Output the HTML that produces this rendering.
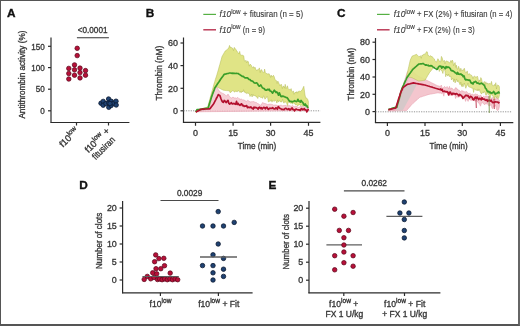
<!DOCTYPE html>
<html><head><meta charset="utf-8"><style>
html,body{margin:0;padding:0;background:#fff;}
body{width:520px;height:326px;overflow:hidden;position:relative;}
svg{position:absolute;left:0;top:0;filter:blur(0.3px);font-family:"Liberation Sans",sans-serif;}
svg text{stroke:#333;stroke-width:0.32px;}
.frame{position:absolute;left:0;top:0;width:520px;height:326px;box-sizing:border-box;border-top:1px solid #555;border-left:1px solid #555;border-right:2px solid #666;border-bottom:2px solid #555;}
</style></head><body>
<svg width="520" height="326" viewBox="0 0 520 326">
<text x="7.1" y="17" font-size="11.8" text-anchor="start" font-weight="bold" fill="#111" style="stroke:#111;stroke-width:0.35px">A</text>
<line x1="51" y1="37.5" x2="51" y2="122.5" stroke="#2b2b2b" stroke-width="1.2" />
<line x1="50.4" y1="122.5" x2="129.4" y2="122.5" stroke="#2b2b2b" stroke-width="1.2" />
<line x1="48" y1="46.3" x2="51" y2="46.3" stroke="#2b2b2b" stroke-width="1.2" />
<text x="44.8" y="49.5" font-size="8.9" text-anchor="end" textLength="13.5" lengthAdjust="spacingAndGlyphs" fill="#3a3a3a" >150</text>
<line x1="48" y1="67.6" x2="51" y2="67.6" stroke="#2b2b2b" stroke-width="1.2" />
<text x="44.8" y="70.8" font-size="8.9" text-anchor="end" textLength="13.5" lengthAdjust="spacingAndGlyphs" fill="#3a3a3a" >100</text>
<line x1="48" y1="89.2" x2="51" y2="89.2" stroke="#2b2b2b" stroke-width="1.2" />
<text x="44.8" y="92.4" font-size="8.9" text-anchor="end" textLength="9.0" lengthAdjust="spacingAndGlyphs" fill="#3a3a3a" >50</text>
<line x1="48" y1="110.8" x2="51" y2="110.8" stroke="#2b2b2b" stroke-width="1.2" />
<text x="44.8" y="114.0" font-size="8.9" text-anchor="end" textLength="4.5" lengthAdjust="spacingAndGlyphs" fill="#3a3a3a" >0</text>
<text x="25.3" y="118.6" font-size="8.6" text-anchor="start" textLength="88" lengthAdjust="spacingAndGlyphs" transform="rotate(-90 25.3 118.6)" fill="#3a3a3a" >Antithrombin activity (%)</text>
<text x="77.7" y="33.1" font-size="8.3" text-anchor="start" textLength="29.8" lengthAdjust="spacingAndGlyphs" fill="#3a3a3a" >&lt;0.0001</text>
<line x1="76.9" y1="37.8" x2="108.9" y2="37.8" stroke="#333" stroke-width="1.1" />
<line x1="76.5" y1="122.5" x2="76.5" y2="125.5" stroke="#2b2b2b" stroke-width="1.2" />
<line x1="108.5" y1="122.5" x2="108.5" y2="125.5" stroke="#2b2b2b" stroke-width="1.2" />
<g transform="translate(79.3,131.5) rotate(-45)">
<text x="0" y="0" font-size="9.2" text-anchor="end" fill="#3a3a3a">f10<tspan font-size="6.8" dy="-3.8">low</tspan></text>
</g>
<g transform="translate(110.3,131.5) rotate(-45)">
<text x="0" y="0" font-size="9.2" text-anchor="end" fill="#3a3a3a">f10<tspan font-size="6.8" dy="-3.8">low</tspan><tspan dy="3.8"> +</tspan></text>
<text x="-2.5" y="10" font-size="9.2" text-anchor="end" textLength="28" lengthAdjust="spacingAndGlyphs" fill="#3a3a3a">fitusiran</text>
</g>
<circle cx="77.2" cy="48.3" r="2.25" fill="#b81039" stroke="#5e0a1e" stroke-width="0.75"/>
<circle cx="77.2" cy="55.6" r="2.25" fill="#b81039" stroke="#5e0a1e" stroke-width="0.75"/>
<circle cx="74.5" cy="64.9" r="2.25" fill="#b81039" stroke="#5e0a1e" stroke-width="0.75"/>
<circle cx="68.8" cy="68.4" r="2.25" fill="#b81039" stroke="#5e0a1e" stroke-width="0.75"/>
<circle cx="74.5" cy="69.8" r="2.25" fill="#b81039" stroke="#5e0a1e" stroke-width="0.75"/>
<circle cx="80.0" cy="68.1" r="2.25" fill="#b81039" stroke="#5e0a1e" stroke-width="0.75"/>
<circle cx="85.5" cy="70.6" r="2.25" fill="#b81039" stroke="#5e0a1e" stroke-width="0.75"/>
<circle cx="68.8" cy="73.5" r="2.25" fill="#b81039" stroke="#5e0a1e" stroke-width="0.75"/>
<circle cx="74.5" cy="75.2" r="2.25" fill="#b81039" stroke="#5e0a1e" stroke-width="0.75"/>
<circle cx="80.0" cy="72.6" r="2.25" fill="#b81039" stroke="#5e0a1e" stroke-width="0.75"/>
<circle cx="85.5" cy="75.2" r="2.25" fill="#b81039" stroke="#5e0a1e" stroke-width="0.75"/>
<circle cx="68.8" cy="79.0" r="2.25" fill="#b81039" stroke="#5e0a1e" stroke-width="0.75"/>
<circle cx="80.0" cy="77.9" r="2.25" fill="#b81039" stroke="#5e0a1e" stroke-width="0.75"/>
<circle cx="101.0" cy="103.2" r="2.25" fill="#1f4272" stroke="#0a172e" stroke-width="0.75"/>
<circle cx="103.2" cy="101.4" r="2.25" fill="#1f4272" stroke="#0a172e" stroke-width="0.75"/>
<circle cx="103.2" cy="105.2" r="2.25" fill="#1f4272" stroke="#0a172e" stroke-width="0.75"/>
<circle cx="106.0" cy="103.6" r="2.25" fill="#1f4272" stroke="#0a172e" stroke-width="0.75"/>
<circle cx="108.6" cy="99.0" r="2.25" fill="#1f4272" stroke="#0a172e" stroke-width="0.75"/>
<circle cx="108.8" cy="103.0" r="2.25" fill="#1f4272" stroke="#0a172e" stroke-width="0.75"/>
<circle cx="108.8" cy="107.3" r="2.25" fill="#1f4272" stroke="#0a172e" stroke-width="0.75"/>
<circle cx="111.2" cy="101.3" r="2.25" fill="#1f4272" stroke="#0a172e" stroke-width="0.75"/>
<circle cx="111.2" cy="105.4" r="2.25" fill="#1f4272" stroke="#0a172e" stroke-width="0.75"/>
<circle cx="113.6" cy="103.2" r="2.25" fill="#1f4272" stroke="#0a172e" stroke-width="0.75"/>
<circle cx="116.0" cy="101.2" r="2.25" fill="#1f4272" stroke="#0a172e" stroke-width="0.75"/>
<circle cx="116.2" cy="105.0" r="2.25" fill="#1f4272" stroke="#0a172e" stroke-width="0.75"/>
<circle cx="110.0" cy="103.5" r="2.25" fill="#1f4272" stroke="#0a172e" stroke-width="0.75"/>
<text x="145.8" y="16.9" font-size="11.8" text-anchor="start" font-weight="bold" fill="#111" style="stroke:#111;stroke-width:0.35px">B</text>
<line x1="203.3" y1="14.4" x2="216" y2="14.4" stroke="#55b043" stroke-width="1.2" />
<line x1="203.3" y1="29.8" x2="216" y2="29.8" stroke="#b8304e" stroke-width="1.4" />
<text x="219.6" y="17.4" font-size="8.3" fill="#3a3a3a" style="stroke:#3a3a3a;stroke-width:0.12px"><tspan font-style="italic">f10</tspan><tspan font-size="6.3" dy="-3.8">low</tspan><tspan dy="3.8" font-size="8.5" textLength="62.5" lengthAdjust="spacingAndGlyphs"> + fitusiran (n = 5)</tspan></text>
<text x="219.6" y="32.7" font-size="8.3" fill="#3a3a3a" style="stroke:#3a3a3a;stroke-width:0.12px"><tspan font-style="italic">f10</tspan><tspan font-size="6.3" dy="-3.8">low</tspan><tspan dy="3.8" font-size="8.5" textLength="24.5" lengthAdjust="spacingAndGlyphs"> (n = 9)</tspan></text>
<line x1="183.5" y1="37.5" x2="183.5" y2="122.5" stroke="#2b2b2b" stroke-width="1.2" />
<line x1="182.9" y1="122.3" x2="320.4" y2="122.3" stroke="#2b2b2b" stroke-width="1.2" />
<line x1="180.5" y1="43" x2="183.5" y2="43" stroke="#2b2b2b" stroke-width="1.2" />
<text x="178" y="46.2" font-size="8.9" text-anchor="end" textLength="9.9" lengthAdjust="spacingAndGlyphs" fill="#3a3a3a" >60</text>
<line x1="180.5" y1="65.6" x2="183.5" y2="65.6" stroke="#2b2b2b" stroke-width="1.2" />
<text x="178" y="68.8" font-size="8.9" text-anchor="end" textLength="9.9" lengthAdjust="spacingAndGlyphs" fill="#3a3a3a" >40</text>
<line x1="180.5" y1="88.3" x2="183.5" y2="88.3" stroke="#2b2b2b" stroke-width="1.2" />
<text x="178" y="91.5" font-size="8.9" text-anchor="end" textLength="9.9" lengthAdjust="spacingAndGlyphs" fill="#3a3a3a" >20</text>
<line x1="180.5" y1="110.8" x2="183.5" y2="110.8" stroke="#2b2b2b" stroke-width="1.2" />
<text x="178" y="114.0" font-size="8.9" text-anchor="end" textLength="4.95" lengthAdjust="spacingAndGlyphs" fill="#3a3a3a" >0</text>
<line x1="195.5" y1="122.3" x2="195.5" y2="125.8" stroke="#2b2b2b" stroke-width="1.2" />
<text x="195.5" y="136" font-size="8.9" text-anchor="middle" textLength="4.95" lengthAdjust="spacingAndGlyphs" fill="#3a3a3a" >0</text>
<line x1="233.1" y1="122.3" x2="233.1" y2="125.8" stroke="#2b2b2b" stroke-width="1.2" />
<text x="233.1" y="136" font-size="8.9" text-anchor="middle" textLength="9.9" lengthAdjust="spacingAndGlyphs" fill="#3a3a3a" >15</text>
<line x1="270.6" y1="122.3" x2="270.6" y2="125.8" stroke="#2b2b2b" stroke-width="1.2" />
<text x="270.6" y="136" font-size="8.9" text-anchor="middle" textLength="9.9" lengthAdjust="spacingAndGlyphs" fill="#3a3a3a" >30</text>
<line x1="308.5" y1="122.3" x2="308.5" y2="125.8" stroke="#2b2b2b" stroke-width="1.2" />
<text x="308.5" y="136" font-size="8.9" text-anchor="middle" textLength="9.9" lengthAdjust="spacingAndGlyphs" fill="#3a3a3a" >45</text>
<text x="257" y="148.6" font-size="8.7" text-anchor="middle" textLength="38.5" lengthAdjust="spacingAndGlyphs" fill="#3a3a3a" >Time (min)</text>
<text x="161.6" y="100.5" font-size="8.7" text-anchor="start" textLength="54.8" lengthAdjust="spacingAndGlyphs" transform="rotate(-90 161.6 100.5)" fill="#3a3a3a" >Thrombin (nM)</text>
<line x1="183.5" y1="110.8" x2="320.4" y2="110.8" stroke="#777" stroke-width="0.8" stroke-dasharray="1.2 1.2"/>
<path d="M195.8,112.0 L196.5,111.6 L197.3,111.1 L198.0,110.7 L198.8,110.3 L199.5,109.9 L200.3,109.4 L201.0,109.0 L201.7,108.8 L202.5,108.6 L203.2,108.3 L204.0,108.1 L204.7,107.9 L205.5,107.7 L206.2,107.4 L207.0,107.2 L207.7,107.0 L208.4,104.3 L209.2,101.5 L209.9,98.8 L210.7,95.8 L211.5,92.9 L212.4,89.9 L213.2,87.0 L214.0,84.0 L214.7,81.7 L215.4,79.3 L216.2,77.0 L216.9,74.7 L217.6,72.3 L218.3,70.0 L219.0,67.3 L219.8,64.6 L220.5,62.0 L221.3,59.3 L222.0,56.6 L222.8,55.2 L223.6,53.8 L224.4,52.4 L225.2,51.0 L225.9,50.5 L226.6,50.0 L227.3,49.5 L228.1,48.4 L228.8,48.1 L229.5,45.4 L230.2,47.4 L231.0,47.1 L231.8,48.0 L232.7,48.2 L233.5,50.6 L234.3,47.4 L235.1,48.5 L235.9,49.5 L236.7,50.8 L237.4,52.0 L238.2,52.7 L238.9,53.8 L239.7,51.4 L240.4,54.9 L241.3,55.2 L242.2,55.1 L242.9,55.5 L243.7,55.8 L244.4,60.8 L245.2,61.5 L245.9,60.2 L246.7,62.9 L247.5,61.0 L248.4,61.7 L249.2,66.2 L250.0,64.3 L250.7,64.6 L251.4,65.5 L252.1,67.2 L252.9,67.9 L253.6,66.6 L254.3,68.3 L255.0,67.2 L255.7,69.1 L256.5,70.5 L257.2,69.7 L258.0,70.2 L258.7,69.2 L259.4,67.9 L260.2,72.6 L260.9,69.9 L261.7,69.7 L262.4,71.8 L263.1,72.4 L263.9,72.8 L264.6,69.1 L265.3,72.4 L266.1,73.5 L266.8,73.5 L267.5,73.9 L268.3,74.1 L269.0,73.5 L269.7,74.8 L270.5,77.4 L271.2,75.1 L271.9,77.1 L272.7,76.3 L273.4,75.3 L274.1,76.4 L274.9,79.3 L275.6,79.9 L276.4,80.7 L277.1,83.5 L277.8,81.1 L278.6,82.5 L279.3,84.3 L280.1,85.8 L280.8,84.5 L281.5,84.5 L282.3,88.6 L283.0,86.3 L283.8,86.2 L284.5,88.2 L285.2,84.3 L286.0,88.6 L286.7,87.5 L287.4,85.8 L288.2,88.7 L288.9,89.6 L289.6,89.4 L290.4,90.1 L291.1,88.6 L291.8,91.4 L292.6,92.0 L293.3,90.9 L294.0,94.3 L294.8,92.8 L295.5,92.0 L296.2,93.1 L296.9,91.5 L297.7,93.2 L298.4,91.4 L299.1,91.3 L299.8,91.2 L300.6,91.5 L301.3,90.6 L302.0,90.2 L302.9,88.2 L303.8,86.3 L305.0,95.1 L305.8,98.2 L306.7,98.1 L307.5,98.9 L308.4,101.4 L308.4,108.2 L307.7,107.8 L307.0,105.4 L306.2,106.5 L305.5,103.8 L304.8,105.9 L304.1,105.3 L303.3,106.4 L302.6,106.2 L301.9,104.9 L301.2,105.2 L300.5,105.7 L299.7,104.0 L299.0,105.2 L298.3,104.9 L297.6,105.8 L296.9,104.9 L296.1,104.4 L295.4,104.9 L294.7,103.2 L294.0,103.6 L293.2,102.6 L292.5,104.2 L291.8,102.7 L291.1,103.2 L290.4,103.2 L289.7,102.4 L289.0,103.0 L288.3,100.3 L287.6,105.8 L286.8,103.5 L286.1,102.5 L285.4,101.9 L284.7,101.6 L284.0,103.2 L283.3,102.1 L282.6,99.3 L281.9,101.8 L281.2,101.9 L280.5,101.9 L279.8,100.7 L279.1,100.9 L278.4,102.1 L277.6,99.9 L276.9,103.1 L276.2,100.9 L275.5,100.4 L274.8,100.2 L274.1,101.5 L273.4,100.8 L272.7,100.1 L272.0,102.2 L271.3,99.8 L270.6,101.1 L269.9,101.1 L269.2,101.5 L268.4,101.9 L267.7,97.7 L267.0,96.3 L266.3,97.7 L265.6,98.5 L264.9,99.2 L264.2,96.3 L263.5,95.9 L262.8,98.2 L262.1,98.1 L261.4,97.3 L260.7,97.6 L260.0,96.8 L259.2,96.5 L258.5,95.8 L257.8,98.5 L257.1,97.3 L256.4,96.9 L255.7,95.9 L255.0,95.9 L254.3,95.5 L253.6,95.7 L252.9,94.2 L252.1,97.0 L251.4,94.2 L250.7,95.7 L250.0,96.5 L249.3,93.7 L248.6,93.3 L247.9,93.7 L247.1,92.5 L246.4,93.6 L245.7,93.1 L245.0,91.7 L244.3,92.3 L243.6,89.7 L242.9,91.9 L242.2,91.2 L241.5,92.5 L240.8,91.2 L240.1,92.6 L239.4,91.8 L238.7,90.7 L238.0,90.4 L237.2,91.9 L236.5,91.6 L235.8,90.7 L235.1,91.9 L234.4,91.9 L233.7,91.4 L233.0,90.4 L232.3,90.8 L231.6,91.7 L230.9,92.0 L230.2,92.8 L229.5,90.9 L228.7,90.8 L228.0,90.7 L227.2,90.6 L226.4,90.6 L225.7,90.5 L224.9,90.4 L224.2,90.3 L223.4,90.2 L222.6,89.8 L221.9,89.5 L221.1,89.1 L220.4,88.7 L219.6,88.3 L218.8,88.0 L218.1,87.6 L217.3,87.2 L216.5,87.5 L215.8,87.8 L215.0,88.1 L214.2,88.4 L213.3,91.4 L212.4,94.5 L211.5,97.5 L210.8,100.0 L210.0,102.5 L209.2,105.0 L208.5,107.5 L207.8,107.8 L207.0,108.0 L206.2,108.2 L205.5,108.5 L204.8,108.8 L204.0,109.0 L203.3,109.3 L202.5,109.5 L201.8,109.8 L201.0,110.1 L200.3,110.4 L199.5,110.6 L198.8,110.9 L198.0,111.2 L197.3,111.5 L196.5,111.7 L195.8,112.0 Z" fill="#e0e486" stroke="#b0b850" stroke-width="0.5"/>
<path d="M195.8,112.0 L197.1,111.7 L198.4,111.4 L199.7,111.1 L201.1,110.9 L202.4,110.6 L203.7,110.3 L205.0,110.0 L206.2,109.2 L207.5,108.5 L208.8,107.8 L210.0,107.0 L211.5,97.1 L213.2,92.9 L214.9,88.7 L216.7,87.2 L218.3,89.6 L220.0,92.0 L221.3,92.7 L222.7,93.4 L224.0,94.0 L225.4,95.2 L226.7,96.0 L228.0,94.1 L229.2,96.2 L230.5,97.4 L231.7,98.1 L233.0,97.0 L234.2,98.0 L235.4,97.9 L236.6,98.3 L237.8,97.4 L239.0,98.7 L240.2,99.3 L241.4,99.1 L242.6,99.9 L243.8,99.9 L245.0,100.6 L246.2,101.5 L247.5,100.4 L248.8,100.9 L250.0,102.1 L251.2,101.8 L252.5,101.7 L253.8,101.6 L255.0,102.4 L256.2,102.4 L257.5,103.5 L258.8,104.1 L260.0,105.2 L261.2,105.1 L262.5,102.6 L263.8,103.2 L265.0,103.6 L266.2,103.9 L267.5,104.6 L268.8,104.3 L270.0,104.2 L271.2,104.2 L272.5,104.6 L273.8,105.3 L275.0,105.0 L276.2,105.1 L277.5,105.5 L278.8,105.8 L280.0,105.4 L281.2,105.2 L282.5,105.8 L283.8,105.6 L285.0,105.4 L286.2,105.6 L287.5,106.3 L288.8,105.5 L290.0,105.8 L291.2,106.3 L292.5,105.6 L293.7,106.4 L294.9,106.8 L296.1,106.4 L297.4,106.7 L298.6,107.6 L299.8,106.9 L301.0,106.3 L302.3,106.8 L303.5,106.9 L304.7,107.3 L305.9,107.5 L307.2,106.7 L308.4,107.1 L308.4,110.6 L195.8,111.8 Z" fill="#f4c6ce" fill-opacity="0.85" stroke="#e8a0ae" stroke-width="0.6"/>
<path d="M195.8,112.0 L197.0,109.7 L197.8,109.6 L198.6,109.5 L199.4,109.4 L200.2,109.3 L201.0,109.2 L201.8,109.0 L202.6,108.9 L203.4,108.8 L204.2,108.7 L205.0,108.6 L206.1,108.4 L207.1,108.3 L208.2,108.1 L209.0,105.3 L209.8,102.6 L210.7,99.8 L211.5,97.1 L212.3,94.8 L213.2,92.4 L214.1,90.1 L214.9,87.8 L215.8,86.5 L216.6,85.3 L217.4,84.0 L218.3,82.7 L219.2,81.5 L220.0,80.2 L220.8,79.0 L221.7,77.8 L222.5,76.7 L223.4,75.5 L224.2,74.3 L225.1,74.1 L226.0,73.9 L226.8,73.7 L227.7,73.5 L228.6,73.3 L229.5,73.0 L230.4,73.0 L231.2,73.2 L232.1,73.3 L232.9,73.2 L233.8,73.3 L234.7,73.3 L235.5,73.5 L236.4,73.3 L237.2,73.5 L238.1,73.5 L239.0,74.2 L239.8,74.6 L240.7,75.3 L241.6,75.9 L242.4,76.5 L243.3,76.4 L244.1,77.2 L245.0,77.9 L245.8,77.9 L246.7,77.8 L247.5,77.8 L248.4,78.9 L249.2,79.5 L250.0,79.6 L250.9,80.7 L251.7,80.9 L252.6,81.2 L253.4,82.0 L254.2,82.8 L255.1,83.1 L255.9,83.0 L256.7,82.8 L257.5,83.7 L258.4,85.2 L259.2,86.2 L260.0,85.6 L260.8,85.0 L261.7,86.6 L262.5,87.8 L263.4,88.4 L264.2,88.5 L265.0,89.8 L265.9,90.1 L266.7,90.2 L267.5,89.4 L268.4,89.8 L269.2,89.2 L270.1,91.0 L270.9,91.2 L271.7,92.0 L272.6,93.1 L273.4,91.6 L274.3,90.2 L275.1,91.3 L276.0,92.5 L276.8,91.9 L277.7,93.1 L278.5,95.1 L279.4,92.9 L280.2,95.0 L281.1,96.6 L281.9,96.4 L282.8,96.2 L283.6,96.3 L284.5,96.9 L285.3,97.0 L286.2,97.6 L287.0,97.6 L287.9,98.8 L288.7,100.0 L289.6,101.2 L290.4,101.4 L291.3,101.4 L292.1,102.0 L293.0,101.4 L293.8,101.4 L294.7,100.7 L295.5,101.2 L296.3,101.6 L297.1,101.3 L297.9,99.3 L298.7,101.2 L299.5,101.1 L300.3,102.1 L301.1,100.5 L301.9,101.8 L302.8,102.4 L303.6,104.3 L304.4,105.3 L305.2,103.9 L306.0,105.8 L306.8,105.6 L307.6,107.3 L308.4,106.9" fill="none" stroke="#3a9e2a" stroke-width="1.7" stroke-linejoin="round"/>
<path d="M195.8,112.0 L196.7,111.6 L197.5,111.1 L198.4,110.7 L199.3,110.3 L200.1,109.8 L201.0,109.4 L201.8,109.3 L202.6,109.2 L203.4,109.2 L204.2,109.1 L205.0,109.0 L205.8,109.0 L206.6,109.0 L207.4,109.0 L208.3,108.9 L209.1,108.9 L209.9,108.9 L210.7,107.7 L211.6,106.5 L212.4,105.4 L213.3,104.2 L214.1,103.0 L214.9,101.3 L215.8,99.6 L216.6,98.0 L217.5,96.3 L218.3,94.6 L219.2,95.2 L220.0,95.8 L220.8,98.2 L221.7,100.5 L222.5,101.9 L223.4,102.3 L224.2,100.5 L225.2,101.2 L226.1,102.6 L227.1,101.4 L228.0,100.3 L228.8,103.3 L229.7,104.0 L230.5,103.3 L231.4,102.6 L232.3,104.0 L233.1,103.7 L234.0,103.4 L234.8,104.0 L235.7,104.3 L236.5,101.4 L237.4,104.5 L238.2,103.5 L239.1,104.9 L239.9,105.4 L240.8,104.4 L241.6,103.8 L242.5,105.7 L243.3,105.3 L244.2,106.4 L245.0,106.0 L245.8,106.1 L246.7,105.6 L247.5,107.7 L248.3,107.1 L249.2,107.3 L250.0,107.7 L250.8,107.0 L251.6,107.7 L252.4,108.6 L253.2,109.0 L254.0,107.1 L254.8,107.9 L255.6,107.4 L256.5,107.7 L257.3,108.2 L258.1,109.1 L258.9,107.5 L259.7,107.2 L260.5,108.6 L261.3,107.7 L262.1,109.0 L262.9,108.1 L263.7,107.3 L264.5,107.5 L265.3,108.9 L266.1,107.5 L266.9,107.2 L267.7,108.9 L268.5,109.4 L269.4,108.3 L270.2,108.2 L271.0,108.4 L271.8,108.3 L272.6,107.6 L273.4,108.6 L274.2,109.0 L275.0,108.9 L275.8,107.8 L276.6,108.0 L277.4,109.3 L278.3,106.5 L279.1,107.5 L279.9,108.5 L280.7,108.5 L281.5,109.4 L282.3,109.4 L283.1,109.4 L284.0,109.7 L284.8,108.7 L285.6,108.3 L286.4,108.6 L287.2,109.4 L288.0,109.5 L288.8,108.6 L289.7,109.9 L290.5,109.9 L291.3,108.5 L292.1,108.0 L292.9,109.5 L293.7,109.6 L294.6,110.9 L295.4,109.5 L296.2,109.1 L297.0,109.5 L297.8,109.7 L298.6,109.9 L299.4,109.8 L300.3,110.5 L301.1,108.9 L301.9,108.6 L302.7,109.8 L303.5,109.4 L304.3,108.6 L305.1,110.0 L306.0,109.9 L306.8,111.9 L307.6,110.6 L308.4,108.8" fill="none" stroke="#b3122f" stroke-width="1.7" stroke-linejoin="round"/>
<text x="337" y="17" font-size="11.8" text-anchor="start" font-weight="bold" fill="#111" style="stroke:#111;stroke-width:0.35px">C</text>
<line x1="377" y1="14.4" x2="389.6" y2="14.4" stroke="#55b043" stroke-width="1.2" />
<line x1="377" y1="29.8" x2="389.6" y2="29.8" stroke="#b8304e" stroke-width="1.4" />
<text x="393.8" y="17.4" font-size="8.3" fill="#3a3a3a" style="stroke:#3a3a3a;stroke-width:0.12px"><tspan font-style="italic">f10</tspan><tspan font-size="6.3" dy="-3.8">low</tspan><tspan dy="3.8" font-size="8.5" textLength="97.5" lengthAdjust="spacingAndGlyphs"> + FX (2%) + fitusiran (n = 4)</tspan></text>
<text x="393.8" y="32.7" font-size="8.3" fill="#3a3a3a" style="stroke:#3a3a3a;stroke-width:0.12px"><tspan font-style="italic">f10</tspan><tspan font-size="6.3" dy="-3.8">low</tspan><tspan dy="3.8" font-size="8.5" textLength="60" lengthAdjust="spacingAndGlyphs"> + FX (2%) (n = 3)</tspan></text>
<line x1="375.5" y1="38" x2="375.5" y2="122.7" stroke="#2b2b2b" stroke-width="1.2" />
<line x1="374.9" y1="122.6" x2="513.3" y2="122.6" stroke="#2b2b2b" stroke-width="1.2" />
<line x1="372.5" y1="42.2" x2="375.5" y2="42.2" stroke="#2b2b2b" stroke-width="1.2" />
<text x="370" y="45.400000000000006" font-size="8.9" text-anchor="end" textLength="9.9" lengthAdjust="spacingAndGlyphs" fill="#3a3a3a" >80</text>
<line x1="372.5" y1="59.5" x2="375.5" y2="59.5" stroke="#2b2b2b" stroke-width="1.2" />
<text x="370" y="62.7" font-size="8.9" text-anchor="end" textLength="9.9" lengthAdjust="spacingAndGlyphs" fill="#3a3a3a" >60</text>
<line x1="372.5" y1="77" x2="375.5" y2="77" stroke="#2b2b2b" stroke-width="1.2" />
<text x="370" y="80.2" font-size="8.9" text-anchor="end" textLength="9.9" lengthAdjust="spacingAndGlyphs" fill="#3a3a3a" >40</text>
<line x1="372.5" y1="94.3" x2="375.5" y2="94.3" stroke="#2b2b2b" stroke-width="1.2" />
<text x="370" y="97.5" font-size="8.9" text-anchor="end" textLength="9.9" lengthAdjust="spacingAndGlyphs" fill="#3a3a3a" >20</text>
<line x1="372.5" y1="111.6" x2="375.5" y2="111.6" stroke="#2b2b2b" stroke-width="1.2" />
<text x="370" y="114.8" font-size="8.9" text-anchor="end" textLength="4.95" lengthAdjust="spacingAndGlyphs" fill="#3a3a3a" >0</text>
<line x1="387.4" y1="122.6" x2="387.4" y2="126" stroke="#2b2b2b" stroke-width="1.2" />
<text x="387.4" y="136.2" font-size="8.9" text-anchor="middle" textLength="4.95" lengthAdjust="spacingAndGlyphs" fill="#3a3a3a" >0</text>
<line x1="425" y1="122.6" x2="425" y2="126" stroke="#2b2b2b" stroke-width="1.2" />
<text x="425" y="136.2" font-size="8.9" text-anchor="middle" textLength="9.9" lengthAdjust="spacingAndGlyphs" fill="#3a3a3a" >15</text>
<line x1="462.3" y1="122.6" x2="462.3" y2="126" stroke="#2b2b2b" stroke-width="1.2" />
<text x="462.3" y="136.2" font-size="8.9" text-anchor="middle" textLength="9.9" lengthAdjust="spacingAndGlyphs" fill="#3a3a3a" >30</text>
<line x1="500.4" y1="122.6" x2="500.4" y2="126" stroke="#2b2b2b" stroke-width="1.2" />
<text x="500.4" y="136.2" font-size="8.9" text-anchor="middle" textLength="9.9" lengthAdjust="spacingAndGlyphs" fill="#3a3a3a" >45</text>
<text x="448.6" y="148.8" font-size="8.7" text-anchor="middle" textLength="38.1" lengthAdjust="spacingAndGlyphs" fill="#3a3a3a" >Time (min)</text>
<text x="353.8" y="100.5" font-size="8.7" text-anchor="start" textLength="52.6" lengthAdjust="spacingAndGlyphs" transform="rotate(-90 353.8 100.5)" fill="#3a3a3a" >Thrombin (nM)</text>
<line x1="375.5" y1="111.8" x2="512.3" y2="111.8" stroke="#777" stroke-width="0.8" stroke-dasharray="1.2 1.2"/>
<path d="M388.3,110.5 L389.1,110.4 L390.0,110.4 L390.8,110.3 L391.6,110.2 L392.5,110.2 L393.3,110.1 L394.2,110.1 L395.0,110.0 L395.9,107.4 L396.7,104.9 L397.6,102.3 L398.4,99.7 L399.3,97.1 L400.1,94.6 L401.0,92.0 L401.8,90.5 L402.6,89.0 L403.4,87.4 L404.2,85.9 L405.0,84.4 L406.0,82.7 L406.9,81.0 L407.9,79.2 L408.9,77.5 L409.7,76.4 L410.5,75.3 L411.4,74.2 L412.2,73.1 L413.0,72.0 L413.8,72.7 L414.7,73.3 L415.5,74.0 L416.3,74.7 L417.2,75.3 L418.0,76.0 L418.8,76.4 L419.7,76.8 L420.5,77.3 L421.4,77.7 L422.2,78.1 L423.1,78.5 L423.9,78.9 L424.8,79.3 L425.6,79.8 L426.5,80.2 L427.3,80.6 L428.1,81.0 L428.9,81.4 L429.8,81.8 L430.6,82.3 L431.4,82.7 L432.2,83.1 L433.1,83.5 L433.9,83.9 L434.7,84.3 L435.5,84.8 L436.4,85.2 L437.2,85.6 L438.0,86.0 L438.8,85.9 L439.6,86.3 L440.5,86.4 L441.3,85.1 L442.1,87.6 L442.9,89.4 L443.8,87.1 L444.6,86.5 L445.4,87.4 L446.2,87.6 L447.1,86.5 L447.9,87.6 L448.7,89.1 L449.5,86.3 L450.4,89.3 L451.2,88.1 L452.0,88.1 L452.8,88.9 L453.6,89.9 L454.4,90.0 L455.2,88.1 L456.1,87.6 L456.9,89.1 L457.7,89.1 L458.5,90.4 L459.3,90.3 L460.1,91.7 L460.9,91.6 L461.8,90.4 L462.6,91.1 L463.4,91.3 L464.2,91.6 L465.0,92.2 L465.8,91.8 L466.6,91.5 L467.4,92.5 L468.2,93.3 L469.1,93.8 L469.9,92.9 L470.7,94.9 L471.5,94.4 L472.3,94.1 L473.1,94.8 L473.9,94.8 L474.8,94.6 L475.6,93.7 L476.4,94.5 L477.2,94.3 L478.0,95.0 L478.8,95.7 L479.6,96.1 L480.5,94.9 L481.3,96.2 L482.1,97.7 L482.9,96.9 L483.8,96.0 L484.6,97.2 L485.4,96.3 L486.2,96.0 L487.1,96.2 L487.9,96.3 L488.7,96.8 L489.5,98.2 L490.3,100.1 L491.2,98.0 L492.0,98.1 L492.8,97.4 L493.6,98.0 L494.5,96.6 L495.3,100.1 L496.1,98.4 L496.9,97.5 L497.8,99.0 L498.6,99.6 L499.4,100.3 L499.4,106.5 L498.6,109.4 L497.8,110.6 L496.9,110.0 L496.1,107.5 L495.3,105.0 L494.5,106.5 L493.6,106.0 L492.8,108.5 L492.0,108.3 L491.2,104.3 L490.3,105.5 L489.5,105.7 L488.7,105.7 L487.9,104.5 L487.1,101.8 L486.2,104.2 L485.4,103.7 L484.6,104.7 L483.8,103.9 L482.9,103.1 L482.1,102.5 L481.3,103.2 L480.5,106.2 L479.6,104.3 L478.8,102.8 L478.0,102.5 L477.2,101.1 L476.3,100.7 L475.5,101.0 L474.7,101.1 L473.9,100.0 L473.0,101.0 L472.2,98.9 L471.4,100.5 L470.6,100.1 L469.7,99.6 L468.9,98.9 L468.1,101.4 L467.2,99.7 L466.4,98.5 L465.6,101.4 L464.8,98.7 L463.9,98.8 L463.1,98.4 L462.3,97.7 L461.5,96.5 L460.6,96.3 L459.8,96.7 L459.0,96.7 L458.2,97.3 L457.3,96.9 L456.5,96.4 L455.6,98.5 L454.7,94.5 L453.8,94.8 L452.9,95.0 L452.0,95.6 L451.2,95.0 L450.4,95.2 L449.5,95.1 L448.7,94.7 L447.9,93.9 L447.1,93.3 L446.2,91.0 L445.4,93.1 L444.6,91.5 L443.8,96.2 L442.9,92.7 L442.1,93.4 L441.3,93.6 L440.5,93.0 L439.6,93.1 L438.8,92.9 L438.0,92.8 L437.2,92.9 L436.3,93.1 L435.5,93.2 L434.7,93.4 L433.8,93.5 L433.0,93.7 L432.1,93.8 L431.3,94.0 L430.5,94.1 L429.6,94.3 L428.8,94.4 L428.0,94.7 L427.1,94.9 L426.3,95.2 L425.5,95.5 L424.6,95.8 L423.8,96.0 L422.9,96.3 L422.1,96.6 L421.3,96.9 L420.4,97.1 L419.6,97.4 L418.8,98.2 L417.9,98.9 L417.1,99.7 L416.2,100.5 L415.4,101.2 L414.5,102.0 L413.7,102.8 L412.8,103.5 L412.0,104.3 L411.1,105.3 L410.2,106.4 L409.3,107.4 L408.4,108.4 L407.5,109.5 L406.6,110.5 L405.8,110.5 L405.0,110.6 L404.1,110.6 L403.3,110.6 L402.5,110.6 L401.7,110.7 L400.9,110.7 L400.1,110.7 L399.2,110.7 L398.4,110.8 L397.6,110.8 L396.8,110.8 L395.9,110.8 L395.1,110.9 L394.2,110.9 L393.4,110.9 L392.5,110.9 L391.7,110.9 L390.8,110.9 L390.0,111.0 L389.1,111.0 L388.3,111.0 Z" fill="#f4c6ce" stroke="#e8a0ae" stroke-width="0.6"/>
<path d="M396,110.5 L401.2,91 L407.3,84.6 L413.5,83 L416.5,85.2 L402.7,110.5 Z" fill="#d4c8c8" fill-opacity="0.95"/>
<path d="M395,110 L407.3,72.1 L413,66 L408,78 L401.5,94 L397,108 Z" fill="#e6d3d5" fill-opacity="0.95" stroke="#e8a0ae" stroke-width="0.5"/>
<path d="M406.5,76.5 L407.3,73.2 L408.0,69.9 L408.8,66.6 L409.5,63.3 L410.3,60.0 L411.2,58.0 L412.2,56.1 L412.9,55.8 L413.6,55.5 L414.4,55.2 L415.1,54.9 L415.8,54.6 L416.5,54.3 L417.3,55.1 L418.1,55.9 L418.9,56.7 L419.7,56.4 L420.5,55.8 L421.3,58.3 L422.0,55.1 L422.8,55.4 L423.6,54.3 L424.4,54.0 L425.1,54.7 L425.8,53.1 L426.5,51.7 L427.3,51.9 L428.0,55.7 L428.7,55.6 L429.4,56.3 L430.1,56.0 L430.8,55.7 L431.5,56.6 L432.2,56.6 L432.9,57.6 L433.6,58.4 L434.3,58.9 L435.0,60.8 L435.7,61.6 L436.4,62.2 L437.1,60.7 L437.9,58.7 L438.6,59.7 L439.3,61.3 L440.0,61.7 L440.7,62.0 L441.4,56.4 L442.2,57.9 L442.9,60.7 L443.6,61.3 L444.3,60.3 L445.0,63.9 L445.7,61.4 L446.5,61.0 L447.2,61.0 L447.9,61.8 L448.6,62.0 L449.3,62.7 L450.0,62.9 L450.8,60.5 L451.5,62.3 L452.2,60.0 L452.9,61.2 L453.6,65.7 L454.3,64.0 L455.1,62.5 L455.8,67.4 L456.5,65.2 L457.2,69.1 L457.9,69.1 L458.6,66.3 L459.3,68.4 L460.1,71.3 L460.8,68.2 L461.5,70.2 L462.2,71.0 L462.9,69.7 L463.6,70.1 L464.3,68.2 L465.1,71.5 L465.8,72.8 L466.5,72.6 L467.2,70.9 L467.9,74.5 L468.6,74.2 L469.3,73.7 L470.1,74.3 L470.8,75.2 L471.5,75.2 L472.2,76.3 L472.9,78.7 L473.6,76.7 L474.3,76.1 L475.1,76.8 L475.8,77.0 L476.5,77.4 L477.2,76.1 L477.9,77.7 L478.6,82.6 L479.3,79.9 L480.1,81.3 L480.8,77.6 L481.5,78.8 L482.2,82.1 L482.9,85.1 L483.6,82.6 L484.3,81.4 L485.1,84.9 L485.8,81.8 L486.5,83.9 L487.2,82.9 L487.9,84.1 L488.6,83.7 L489.4,83.6 L490.1,83.4 L490.8,84.2 L491.5,81.4 L492.2,85.0 L492.9,85.9 L493.7,85.8 L494.4,84.4 L495.1,85.8 L495.8,82.7 L496.5,89.0 L497.2,84.7 L498.0,85.5 L498.7,85.5 L499.4,86.9 L499.4,95.4 L498.7,97.8 L498.0,98.8 L497.2,95.7 L496.5,97.9 L495.8,96.9 L495.1,96.2 L494.4,99.5 L493.7,97.3 L492.9,96.0 L492.2,95.4 L491.5,92.8 L490.8,95.3 L490.1,98.4 L489.4,96.0 L488.6,94.3 L487.9,94.3 L487.2,91.6 L486.5,94.8 L485.8,95.1 L485.1,92.7 L484.3,91.4 L483.6,93.1 L482.9,91.8 L482.2,92.8 L481.5,94.1 L480.8,92.9 L480.0,91.5 L479.3,89.3 L478.6,90.7 L477.9,88.9 L477.2,91.0 L476.5,89.8 L475.8,90.1 L475.0,89.6 L474.3,88.7 L473.6,92.4 L472.9,88.0 L472.2,88.2 L471.5,87.9 L470.8,87.5 L470.1,87.3 L469.3,87.0 L468.6,86.7 L467.9,83.1 L467.2,85.4 L466.5,86.4 L465.8,88.3 L465.1,86.0 L464.3,83.0 L463.6,85.0 L462.9,86.9 L462.2,83.9 L461.5,86.4 L460.8,82.1 L460.1,84.8 L459.4,83.2 L458.6,81.8 L457.9,80.5 L457.2,81.9 L456.5,78.9 L455.8,80.5 L455.1,82.9 L454.3,78.9 L453.6,81.8 L452.9,78.4 L452.2,78.5 L451.5,80.0 L450.8,76.3 L450.0,76.5 L449.3,76.4 L448.6,74.1 L447.9,76.1 L447.2,75.1 L446.5,74.0 L445.7,76.7 L445.0,71.2 L444.3,69.4 L443.6,69.0 L442.9,73.5 L442.2,71.3 L441.4,70.6 L440.7,69.5 L440.0,69.5 L439.3,71.5 L438.6,67.8 L437.9,67.7 L437.1,68.2 L436.4,67.6 L435.7,66.6 L435.0,66.0 L434.3,66.8 L433.6,67.7 L432.9,68.5 L432.2,69.3 L431.5,70.2 L430.8,71.0 L430.1,71.9 L429.4,72.7 L428.7,74.0 L427.9,75.2 L427.2,76.5 L426.5,77.7 L425.7,79.0 L425.0,80.2 L424.3,80.3 L423.6,80.4 L422.9,80.5 L422.2,80.6 L421.5,80.7 L420.8,80.8 L420.1,80.9 L419.4,81.0 L418.7,81.1 L418.0,80.7 L417.2,80.3 L416.5,80.0 L415.7,79.6 L415.0,79.2 L414.2,78.8 L413.5,78.5 L412.7,78.1 L412.0,77.7 L411.2,77.5 L410.4,77.4 L409.6,77.2 L408.9,77.0 L408.1,76.8 L407.3,76.7 L406.5,76.5 Z" fill="#e0e486" fill-opacity="0.92" stroke="#b0b850" stroke-width="0.5"/>
<path d="M388.3,109.6 L389.2,109.3 L390.1,109.0 L391.1,108.7 L392.0,108.4 L392.9,108.1 L393.8,107.8 L394.8,107.6 L395.8,107.4 L396.8,107.2 L397.6,104.1 L398.5,101.0 L399.4,98.0 L400.2,94.9 L401.0,91.8 L401.9,88.7 L402.7,86.9 L403.6,85.0 L404.4,83.2 L405.2,81.4 L406.1,79.5 L406.9,77.7 L407.7,76.5 L408.6,75.3 L409.4,74.1 L410.3,72.9 L411.1,71.7 L412.0,70.5 L412.8,69.3 L413.6,68.6 L414.5,67.8 L415.3,67.1 L416.2,66.4 L417.0,65.7 L417.9,64.9 L418.7,64.2 L419.6,64.0 L420.5,63.9 L421.4,63.8 L422.3,63.7 L423.2,63.5 L424.0,64.1 L424.8,64.6 L425.6,65.2 L426.5,64.9 L427.3,65.4 L428.1,65.2 L429.0,66.0 L430.0,65.8 L430.9,65.7 L431.8,65.9 L432.9,66.9 L433.9,67.6 L435.0,68.2 L435.8,68.6 L436.7,69.4 L437.5,69.2 L438.3,67.2 L439.2,66.2 L440.0,66.3 L440.9,66.1 L441.8,68.1 L442.6,66.6 L443.5,66.9 L444.4,67.7 L445.3,68.6 L446.1,66.6 L447.0,67.6 L447.9,66.9 L448.7,67.3 L449.5,67.8 L450.3,68.7 L451.1,70.5 L451.9,70.8 L452.7,70.7 L453.5,71.4 L454.4,71.7 L455.2,72.9 L456.0,73.0 L456.8,74.1 L457.6,72.4 L458.4,74.2 L459.2,74.2 L460.0,74.3 L460.8,73.9 L461.6,74.9 L462.4,74.9 L463.2,76.7 L464.1,76.0 L464.9,79.0 L465.7,79.9 L466.5,79.5 L467.3,79.9 L468.1,79.9 L468.9,80.3 L469.8,80.0 L470.6,82.0 L471.4,83.3 L472.2,82.9 L473.0,84.0 L473.8,82.1 L474.6,82.1 L475.5,81.4 L476.3,82.1 L477.1,83.3 L477.9,83.0 L478.7,83.4 L479.6,83.9 L480.4,83.6 L481.2,83.1 L482.0,83.5 L482.9,84.1 L483.7,84.7 L484.5,85.6 L485.3,88.1 L486.2,88.8 L487.0,90.7 L487.8,91.7 L488.6,91.3 L489.5,92.7 L490.3,92.1 L491.1,93.4 L492.0,92.8 L492.8,92.9 L493.6,91.4 L494.4,92.5 L495.3,94.3 L496.1,93.4 L496.9,93.3 L497.7,92.6 L498.6,91.9 L499.4,93.7" fill="none" stroke="#3a9e2a" stroke-width="1.7" stroke-linejoin="round"/>
<path d="M388.4,109.7 L389.2,109.5 L390.0,109.3 L390.9,109.1 L391.7,108.9 L392.5,108.8 L393.3,108.6 L394.2,108.4 L395.0,108.2 L395.8,108.0 L396.9,104.5 L398.0,101.0 L398.8,98.3 L399.7,95.7 L400.5,93.0 L401.3,91.2 L402.2,89.3 L403.0,87.5 L403.9,86.9 L404.7,86.3 L405.6,85.6 L406.4,85.0 L407.3,84.4 L408.2,84.2 L409.1,84.0 L410.0,83.8 L410.8,83.5 L411.7,83.3 L412.6,83.1 L413.5,82.9 L414.3,83.1 L415.1,83.2 L415.9,83.4 L416.8,83.5 L417.6,83.7 L418.4,83.8 L419.2,84.0 L420.0,84.1 L420.8,84.3 L421.6,84.4 L422.4,84.6 L423.3,84.7 L424.1,84.9 L424.9,85.0 L425.7,85.2 L426.5,85.5 L427.3,85.7 L428.2,86.0 L429.0,86.2 L429.8,86.5 L430.6,86.7 L431.4,87.0 L432.3,87.2 L433.1,87.5 L433.9,87.7 L434.7,88.0 L435.5,88.2 L436.4,88.5 L437.2,88.7 L438.0,89.0 L438.8,89.3 L439.6,89.5 L440.5,89.0 L441.3,90.2 L442.1,89.3 L442.9,91.5 L443.8,91.5 L444.6,91.1 L445.4,91.6 L446.2,91.8 L447.1,91.6 L447.9,92.4 L448.7,95.0 L449.5,92.4 L450.4,92.1 L451.2,93.9 L452.0,94.5 L452.9,93.1 L453.7,93.9 L454.6,93.7 L455.4,94.5 L456.3,93.5 L457.1,93.9 L458.0,94.6 L458.8,95.9 L459.7,94.4 L460.5,95.0 L461.3,95.4 L462.1,96.5 L463.0,98.3 L463.8,97.1 L464.6,96.9 L465.5,95.4 L466.3,95.3 L467.1,95.9 L467.9,95.5 L468.8,97.2 L469.6,98.0 L470.4,96.3 L471.3,96.8 L472.1,97.4 L472.9,99.3 L473.8,99.9 L474.6,98.0 L475.4,97.2 L476.2,98.9 L477.1,97.0 L477.9,98.3 L478.7,99.5 L479.6,98.4 L480.4,98.6 L481.2,99.9 L482.0,97.7 L482.9,99.2 L483.7,99.1 L484.5,99.0 L485.3,100.2 L486.2,100.3 L487.0,99.7 L487.8,101.3 L488.6,100.3 L489.5,100.2 L490.3,101.2 L491.1,100.2 L492.0,101.8 L492.8,102.6 L493.6,102.3 L494.4,102.5 L495.3,101.7 L496.1,101.9 L496.9,102.0 L497.7,102.1 L498.6,102.8 L499.4,102.0" fill="none" stroke="#b3122f" stroke-width="1.7" stroke-linejoin="round"/>
<path d="M489,96 L489.3,113" stroke="#6a8a3a" stroke-width="0.8" fill="none"/>
<path d="M476,100 L476.3,108" stroke="#b3122f" stroke-width="0.8" fill="none"/>
<path d="M494,99 L494.3,109" stroke="#b3122f" stroke-width="0.8" fill="none"/>
<text x="79.3" y="189" font-size="11.8" text-anchor="start" font-weight="bold" fill="#111" style="stroke:#111;stroke-width:0.35px">D</text>
<line x1="122.6" y1="201" x2="122.6" y2="293.3" stroke="#2b2b2b" stroke-width="1.2" />
<line x1="122" y1="292.8" x2="252.6" y2="292.8" stroke="#2b2b2b" stroke-width="1.2" />
<line x1="119.6" y1="208.0" x2="122.6" y2="208.0" stroke="#2b2b2b" stroke-width="1.2" />
<text x="116.8" y="211.2" font-size="8.9" text-anchor="end" textLength="9.9" lengthAdjust="spacingAndGlyphs" fill="#3a3a3a" >20</text>
<line x1="119.6" y1="226.0" x2="122.6" y2="226.0" stroke="#2b2b2b" stroke-width="1.2" />
<text x="116.8" y="229.2" font-size="8.9" text-anchor="end" textLength="9.9" lengthAdjust="spacingAndGlyphs" fill="#3a3a3a" >15</text>
<line x1="119.6" y1="244.0" x2="122.6" y2="244.0" stroke="#2b2b2b" stroke-width="1.2" />
<text x="116.8" y="247.2" font-size="8.9" text-anchor="end" textLength="9.9" lengthAdjust="spacingAndGlyphs" fill="#3a3a3a" >10</text>
<line x1="119.6" y1="262.0" x2="122.6" y2="262.0" stroke="#2b2b2b" stroke-width="1.2" />
<text x="116.8" y="265.2" font-size="8.9" text-anchor="end" textLength="4.95" lengthAdjust="spacingAndGlyphs" fill="#3a3a3a" >5</text>
<line x1="119.6" y1="280.0" x2="122.6" y2="280.0" stroke="#2b2b2b" stroke-width="1.2" />
<text x="116.8" y="283.2" font-size="8.9" text-anchor="end" textLength="4.95" lengthAdjust="spacingAndGlyphs" fill="#3a3a3a" >0</text>
<text x="102.2" y="269" font-size="8.5" text-anchor="start" textLength="56.4" lengthAdjust="spacingAndGlyphs" transform="rotate(-90 102.2 269)" fill="#3a3a3a" >Number of clots</text>
<line x1="160.4" y1="292.8" x2="160.4" y2="296" stroke="#2b2b2b" stroke-width="1.2" />
<line x1="218.4" y1="292.8" x2="218.4" y2="296" stroke="#2b2b2b" stroke-width="1.2" />
<text x="149.6" y="307" font-size="8.6" fill="#3a3a3a">f10<tspan font-size="6.6" dy="-3.8">low</tspan></text>
<text x="198.2" y="307" font-size="8.6" fill="#3a3a3a">f10<tspan font-size="6.6" dy="-3.8">low</tspan><tspan dy="3.8"> + Fit</tspan></text>
<text x="176.9" y="195.8" font-size="8.3" text-anchor="start" textLength="25.4" lengthAdjust="spacingAndGlyphs" fill="#3a3a3a" >0.0029</text>
<line x1="160.5" y1="200.5" x2="218.5" y2="200.5" stroke="#4a4a4a" stroke-width="1.2" />
<circle cx="155.7" cy="254.9" r="2.25" fill="#b81039" stroke="#5e0a1e" stroke-width="0.75"/>
<circle cx="154.6" cy="261.7" r="2.25" fill="#b81039" stroke="#5e0a1e" stroke-width="0.75"/>
<circle cx="158.9" cy="258.6" r="2.25" fill="#b81039" stroke="#5e0a1e" stroke-width="0.75"/>
<circle cx="163.8" cy="258.3" r="2.25" fill="#b81039" stroke="#5e0a1e" stroke-width="0.75"/>
<circle cx="164.5" cy="265.7" r="2.25" fill="#b81039" stroke="#5e0a1e" stroke-width="0.75"/>
<circle cx="160.8" cy="268.7" r="2.25" fill="#b81039" stroke="#5e0a1e" stroke-width="0.75"/>
<circle cx="156.0" cy="268.7" r="2.25" fill="#b81039" stroke="#5e0a1e" stroke-width="0.75"/>
<circle cx="152.7" cy="272.8" r="2.25" fill="#b81039" stroke="#5e0a1e" stroke-width="0.75"/>
<circle cx="156.7" cy="273.8" r="2.25" fill="#b81039" stroke="#5e0a1e" stroke-width="0.75"/>
<circle cx="170.2" cy="273.1" r="2.25" fill="#b81039" stroke="#5e0a1e" stroke-width="0.75"/>
<circle cx="147.3" cy="276.4" r="2.25" fill="#b81039" stroke="#5e0a1e" stroke-width="0.75"/>
<circle cx="144.2" cy="279.4" r="2.25" fill="#b81039" stroke="#5e0a1e" stroke-width="0.75"/>
<circle cx="150.7" cy="278.8" r="2.25" fill="#b81039" stroke="#5e0a1e" stroke-width="0.75"/>
<circle cx="154.0" cy="277.5" r="2.25" fill="#b81039" stroke="#5e0a1e" stroke-width="0.75"/>
<circle cx="157.5" cy="279.5" r="2.25" fill="#b81039" stroke="#5e0a1e" stroke-width="0.75"/>
<circle cx="161.0" cy="279.0" r="2.25" fill="#b81039" stroke="#5e0a1e" stroke-width="0.75"/>
<circle cx="159.5" cy="278.9" r="2.25" fill="#b81039" stroke="#5e0a1e" stroke-width="0.75"/>
<circle cx="162.1" cy="279.7" r="2.25" fill="#b81039" stroke="#5e0a1e" stroke-width="0.75"/>
<circle cx="164.7" cy="278.9" r="2.25" fill="#b81039" stroke="#5e0a1e" stroke-width="0.75"/>
<circle cx="167.3" cy="279.7" r="2.25" fill="#b81039" stroke="#5e0a1e" stroke-width="0.75"/>
<circle cx="169.9" cy="278.9" r="2.25" fill="#b81039" stroke="#5e0a1e" stroke-width="0.75"/>
<circle cx="172.5" cy="279.7" r="2.25" fill="#b81039" stroke="#5e0a1e" stroke-width="0.75"/>
<circle cx="175.1" cy="278.9" r="2.25" fill="#b81039" stroke="#5e0a1e" stroke-width="0.75"/>
<circle cx="177.7" cy="279.7" r="2.25" fill="#b81039" stroke="#5e0a1e" stroke-width="0.75"/>
<line x1="142.4" y1="276.5" x2="178.8" y2="276.5" stroke="#5f5f5f" stroke-width="1.2" />
<circle cx="218.2" cy="211.6" r="2.25" fill="#1f4272" stroke="#0a172e" stroke-width="0.75"/>
<circle cx="202.5" cy="226.0" r="2.25" fill="#1f4272" stroke="#0a172e" stroke-width="0.75"/>
<circle cx="213.0" cy="226.0" r="2.25" fill="#1f4272" stroke="#0a172e" stroke-width="0.75"/>
<circle cx="223.5" cy="226.0" r="2.25" fill="#1f4272" stroke="#0a172e" stroke-width="0.75"/>
<circle cx="234.2" cy="222.4" r="2.25" fill="#1f4272" stroke="#0a172e" stroke-width="0.75"/>
<circle cx="218.2" cy="244.0" r="2.25" fill="#1f4272" stroke="#0a172e" stroke-width="0.75"/>
<circle cx="213.0" cy="254.8" r="2.25" fill="#1f4272" stroke="#0a172e" stroke-width="0.75"/>
<circle cx="223.5" cy="258.4" r="2.25" fill="#1f4272" stroke="#0a172e" stroke-width="0.75"/>
<circle cx="202.5" cy="265.6" r="2.25" fill="#1f4272" stroke="#0a172e" stroke-width="0.75"/>
<circle cx="213.0" cy="265.6" r="2.25" fill="#1f4272" stroke="#0a172e" stroke-width="0.75"/>
<circle cx="223.5" cy="269.2" r="2.25" fill="#1f4272" stroke="#0a172e" stroke-width="0.75"/>
<circle cx="213.0" cy="272.8" r="2.25" fill="#1f4272" stroke="#0a172e" stroke-width="0.75"/>
<circle cx="223.5" cy="276.4" r="2.25" fill="#1f4272" stroke="#0a172e" stroke-width="0.75"/>
<circle cx="213.0" cy="280.0" r="2.25" fill="#1f4272" stroke="#0a172e" stroke-width="0.75"/>
<line x1="200" y1="257" x2="237" y2="257" stroke="#5f5f5f" stroke-width="1.3" />
<text x="268.4" y="189" font-size="11.8" text-anchor="start" font-weight="bold" fill="#111" style="stroke:#111;stroke-width:0.35px">E</text>
<line x1="309" y1="201" x2="309" y2="293.3" stroke="#2b2b2b" stroke-width="1.2" />
<line x1="308.4" y1="292.9" x2="440.4" y2="292.9" stroke="#2b2b2b" stroke-width="1.2" />
<line x1="306" y1="208.2" x2="309" y2="208.2" stroke="#2b2b2b" stroke-width="1.2" />
<text x="303.3" y="211.39999999999998" font-size="8.9" text-anchor="end" textLength="9.9" lengthAdjust="spacingAndGlyphs" fill="#3a3a3a" >20</text>
<line x1="306" y1="226.2" x2="309" y2="226.2" stroke="#2b2b2b" stroke-width="1.2" />
<text x="303.3" y="229.39999999999998" font-size="8.9" text-anchor="end" textLength="9.9" lengthAdjust="spacingAndGlyphs" fill="#3a3a3a" >15</text>
<line x1="306" y1="244.2" x2="309" y2="244.2" stroke="#2b2b2b" stroke-width="1.2" />
<text x="303.3" y="247.39999999999998" font-size="8.9" text-anchor="end" textLength="9.9" lengthAdjust="spacingAndGlyphs" fill="#3a3a3a" >10</text>
<line x1="306" y1="262.2" x2="309" y2="262.2" stroke="#2b2b2b" stroke-width="1.2" />
<text x="303.3" y="265.4" font-size="8.9" text-anchor="end" textLength="4.95" lengthAdjust="spacingAndGlyphs" fill="#3a3a3a" >5</text>
<line x1="306" y1="280.2" x2="309" y2="280.2" stroke="#2b2b2b" stroke-width="1.2" />
<text x="303.3" y="283.4" font-size="8.9" text-anchor="end" textLength="4.95" lengthAdjust="spacingAndGlyphs" fill="#3a3a3a" >0</text>
<text x="289.2" y="269.5" font-size="8.5" text-anchor="start" textLength="55.5" lengthAdjust="spacingAndGlyphs" transform="rotate(-90 289.2 269.5)" fill="#3a3a3a" >Number of clots</text>
<line x1="343.8" y1="292.9" x2="343.8" y2="296" stroke="#2b2b2b" stroke-width="1.2" />
<line x1="404.5" y1="292.9" x2="404.5" y2="296" stroke="#2b2b2b" stroke-width="1.2" />
<text x="329.1" y="307" font-size="8.6" fill="#3a3a3a">f10<tspan font-size="6.6" dy="-3.8">low</tspan><tspan dy="3.8"> +</tspan></text>
<text x="344.4" y="317.3" font-size="8.3" text-anchor="middle" textLength="37.7" lengthAdjust="spacingAndGlyphs" fill="#3a3a3a" >FX 1 U/kg</text>
<text x="384.1" y="307" font-size="8.6" fill="#3a3a3a">f10<tspan font-size="6.6" dy="-3.8">low</tspan><tspan dy="3.8"> + Fit</tspan></text>
<text x="404.7" y="317.3" font-size="8.3" text-anchor="middle" textLength="45" lengthAdjust="spacingAndGlyphs" fill="#3a3a3a" >+ FX 1 U/kg</text>
<text x="361.5" y="186.3" font-size="8.3" text-anchor="start" textLength="25.5" lengthAdjust="spacingAndGlyphs" fill="#3a3a3a" >0.0262</text>
<line x1="343.9" y1="190.8" x2="404.5" y2="190.8" stroke="#4a4a4a" stroke-width="1.2" />
<line x1="326.4" y1="244.8" x2="362" y2="244.8" stroke="#5f5f5f" stroke-width="1.3" />
<circle cx="334.7" cy="209.2" r="2.25" fill="#b81039" stroke="#5e0a1e" stroke-width="0.75"/>
<circle cx="353.1" cy="212.5" r="2.25" fill="#b81039" stroke="#5e0a1e" stroke-width="0.75"/>
<circle cx="343.9" cy="216.2" r="2.25" fill="#b81039" stroke="#5e0a1e" stroke-width="0.75"/>
<circle cx="339.3" cy="230.4" r="2.25" fill="#b81039" stroke="#5e0a1e" stroke-width="0.75"/>
<circle cx="348.5" cy="230.4" r="2.25" fill="#b81039" stroke="#5e0a1e" stroke-width="0.75"/>
<circle cx="343.9" cy="237.7" r="2.25" fill="#b81039" stroke="#5e0a1e" stroke-width="0.75"/>
<circle cx="343.9" cy="245.0" r="2.25" fill="#b81039" stroke="#5e0a1e" stroke-width="0.75"/>
<circle cx="343.9" cy="252.0" r="2.25" fill="#b81039" stroke="#5e0a1e" stroke-width="0.75"/>
<circle cx="334.7" cy="255.7" r="2.25" fill="#b81039" stroke="#5e0a1e" stroke-width="0.75"/>
<circle cx="353.1" cy="255.7" r="2.25" fill="#b81039" stroke="#5e0a1e" stroke-width="0.75"/>
<circle cx="343.9" cy="262.7" r="2.25" fill="#b81039" stroke="#5e0a1e" stroke-width="0.75"/>
<circle cx="353.1" cy="266.2" r="2.25" fill="#b81039" stroke="#5e0a1e" stroke-width="0.75"/>
<circle cx="334.7" cy="269.8" r="2.25" fill="#b81039" stroke="#5e0a1e" stroke-width="0.75"/>
<line x1="386.4" y1="216.3" x2="422.4" y2="216.3" stroke="#5f5f5f" stroke-width="1.3" />
<circle cx="404.3" cy="202.0" r="2.25" fill="#1f4272" stroke="#0a172e" stroke-width="0.75"/>
<circle cx="399.9" cy="213.0" r="2.25" fill="#1f4272" stroke="#0a172e" stroke-width="0.75"/>
<circle cx="408.9" cy="213.0" r="2.25" fill="#1f4272" stroke="#0a172e" stroke-width="0.75"/>
<circle cx="404.3" cy="219.5" r="2.25" fill="#1f4272" stroke="#0a172e" stroke-width="0.75"/>
<circle cx="404.3" cy="230.5" r="2.25" fill="#1f4272" stroke="#0a172e" stroke-width="0.75"/>
<circle cx="404.3" cy="237.9" r="2.25" fill="#1f4272" stroke="#0a172e" stroke-width="0.75"/>
</svg>
<div class="frame"></div>
</body></html>
